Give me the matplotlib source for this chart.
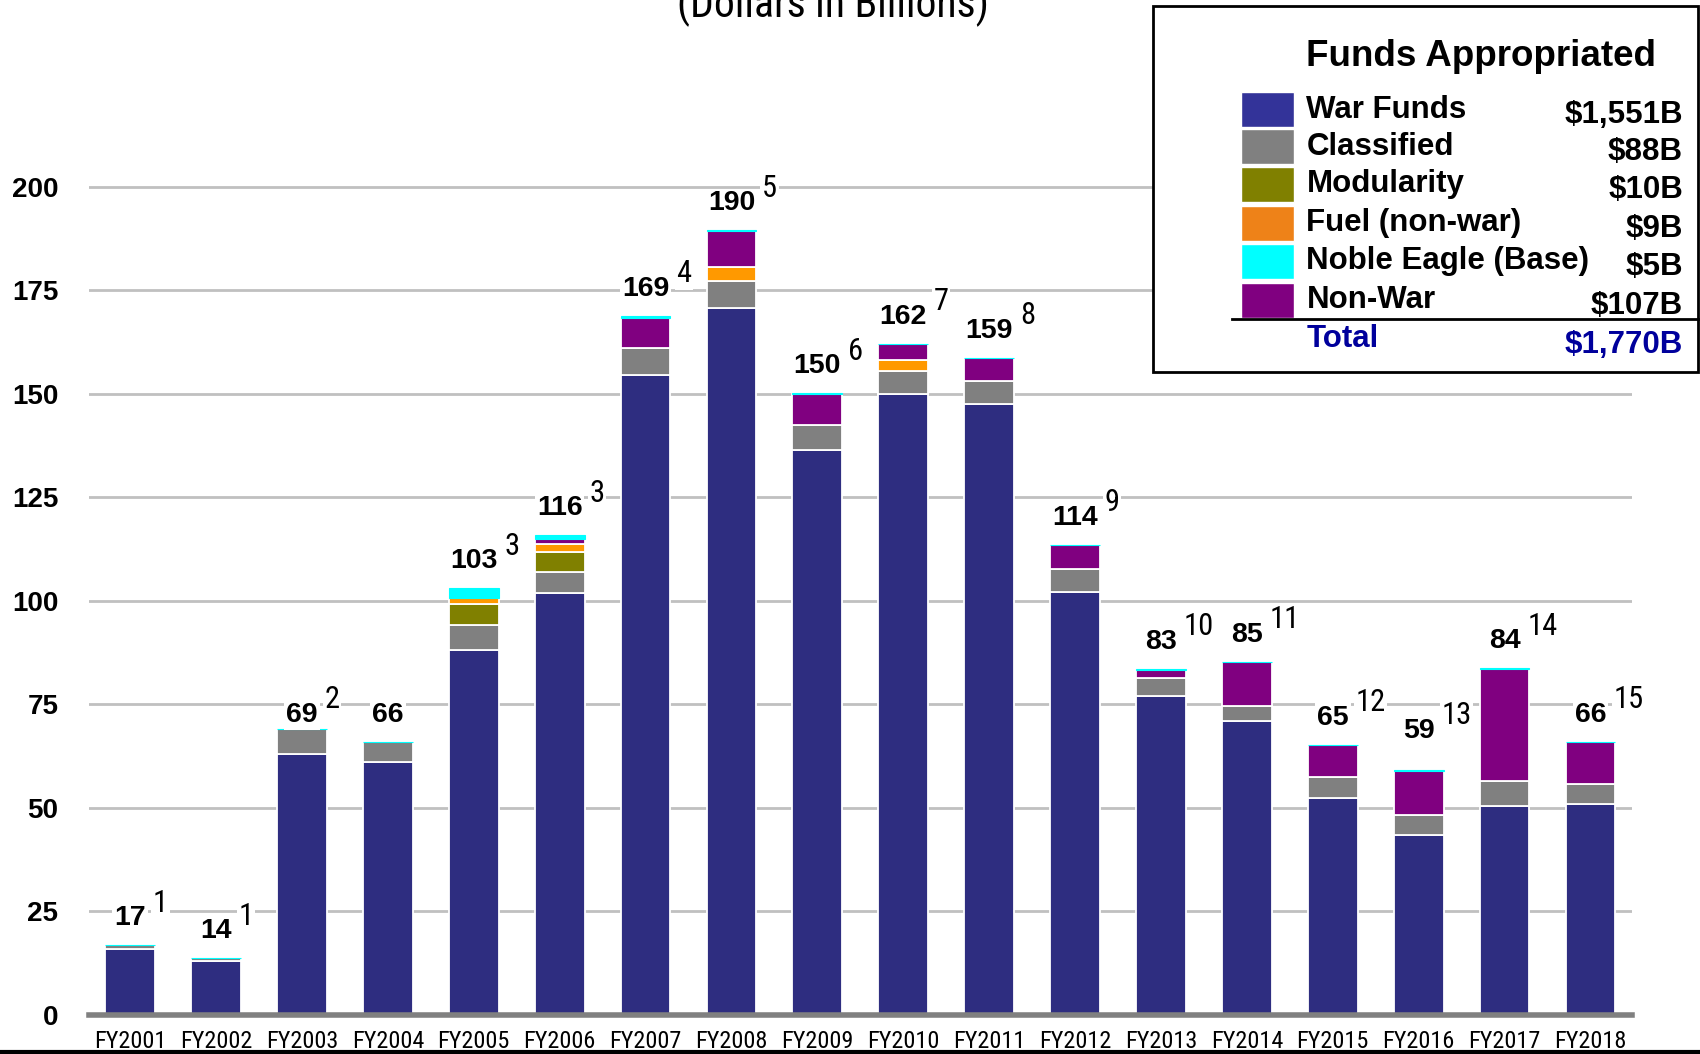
import matplotlib.pyplot as plt
from matplotlib import font_manager
from matplotlib.patches import Rectangle
from matplotlib.lines import Line2D
import numpy as np

# values (dollars in billions)
years = ['FY2001', 'FY2002', 'FY2003', 'FY2004', 'FY2005', 'FY2006', 'FY2007', 'FY2008', 'FY2009',
         'FY2010', 'FY2011', 'FY2012', 'FY2013', 'FY2014', 'FY2015', 'FY2016', 'FY2017', 'FY2018']
war_funds = [16.0, 13.0, 63.0, 61.0, 88.1, 101.8, 154.6, 170.6, 136.4,
             150.0, 147.6, 102.1, 77.0, 70.9, 52.5, 43.5, 50.4, 51.0]
classified = [0.8, 0.7, 6.0, 5.0, 6.0, 5.1, 6.3, 6.6, 6.0,
              5.5, 5.5, 5.5, 4.3, 3.8, 5.0, 4.7, 6.1, 4.8]
modularity = [0, 0, 0, 0, 5.0, 4.9, 0, 0, 0, 0, 0, 0, 0, 0, 0, 0, 0, 0]
fuel = [0, 0, 0, 0, 1.6, 2.0, 0, 3.3, 0, 2.6, 0, 0, 0, 0, 0, 0, 0, 0]
non_war = [0, 0, 0, 0, 0, 1.0, 7.3, 8.7, 7.6, 3.8, 5.5, 5.8, 2.1, 10.4, 7.6, 10.8, 27.1, 10.0]
noble_eagle = [0, 0, 0, 0, 2.3, 1.0, 0.5, 0.2, 0.1, 0.2, 0.1, 0.1, 0.1, 0.1, 0.1, 0.1, 0.1, 0.1]
totals = [17, 14, 69, 66, 103, 116, 169, 190, 150, 162, 159, 114, 83, 85, 65, 59, 84, 66]
footnotes = ['1', '1', '2', '', '3', '3', '4', '5', '6', '7', '8', '9', '10', '11', '12', '13', '14', '15']

legend_names = ['War Funds', 'Classified', 'Modularity', 'Fuel (non-war)', 'Noble Eagle (Base)', 'Non-War']
legend_amounts = ['$1,551B', '$88B', '$10B', '$9B', '$5B', '$107B']
total_amount = '$1,770B'

series = [war_funds, classified, modularity, fuel, non_war, noble_eagle]
bar_colors = ['#2E2D80', '#808080', '#808000', '#FF9900', '#800080', '#00FFFF']
legend_colors = ['#333399', '#808080', '#808000', '#EE8218', '#00FFFF', '#800080']

# pick a condensed face if one is around, else fall back to Liberation Sans
installed = {f.name for f in font_manager.fontManager.ttflist}
NARROW = 'Liberation Sans'
for cand in ['Liberation Sans Narrow', 'DejaVu Sans Condensed', 'Roboto Condensed', 'Open Sans Condensed']:
    if cand in installed:
        NARROW = cand
        break
narrow_found = NARROW != 'Liberation Sans'
BOLD = 'Liberation Sans'

fig = plt.figure(figsize=(17, 10.54), dpi=100)
ax = fig.add_axes([0.0523, 0.037, 0.9075, 0.845])

x = np.arange(len(years))
bottom = np.zeros(len(years))
for vals, col in zip(series, bar_colors):
    vals = np.array(vals, dtype=float)
    if col == '#00FFFF':
        ax.bar(x, vals, 0.58, bottom=bottom, color=col, edgecolor=col, lw=0.8, zorder=3)
    else:
        ax.bar(x, vals, 0.58, bottom=bottom, color=col, edgecolor='white', lw=1.3, zorder=3)
    bottom += vals

# value labels with footnote numbers
nudge = {'FY2003': -3.0, 'FY2016': 3.0}
fn_size = 22 if narrow_found else 17
for i, yr in enumerate(years):
    ypos = bottom[i] + 6.5 + nudge.get(yr, 0)
    lab = ax.text(x[i], ypos, str(totals[i]), ha='center', va='center', fontsize=20.5,
                  fontweight='bold', family=BOLD, zorder=5,
                  bbox=dict(fc='white', ec='none', pad=1.5))
    if footnotes[i]:
        ax.annotate(footnotes[i], xy=(1, 0.5), xycoords=lab, xytext=(5, 11),
                    textcoords='offset points', ha='left', va='center', fontsize=fn_size,
                    family=NARROW, zorder=5, bbox=dict(fc='white', ec='none', pad=1))

ax.set_xlim(-0.48, 17.48)
ax.set_ylim(0, 215)
ax.set_yticks(range(0, 201, 25))
ax.set_xticks(x)
ax.set_xticklabels(years, fontsize=17.5 if narrow_found else 13.5, family=NARROW)
for t in ax.get_yticklabels():
    t.set_fontsize(20)
    t.set_fontweight('bold')
    t.set_family(BOLD)
ax.tick_params(axis='y', length=0, pad=22)
ax.tick_params(axis='x', length=0, pad=11)
ax.grid(axis='y', color='#C0C0C0', lw=2)
ax.set_axisbelow(True)
for s in ['top', 'right', 'left']:
    ax.spines[s].set_visible(False)
ax.spines['bottom'].set_color('#808080')
ax.spines['bottom'].set_linewidth(4)
ax.spines['bottom'].set_zorder(4)

# subtitle, cut off at the top edge like the source
fig.text(0.49, 0.995, '(Dollars in Billions)', ha='center', va='center', fontsize=30, family=NARROW)

# legend box
fig.add_artist(Rectangle((0.678, 0.647), 0.321, 0.347, transform=fig.transFigure,
                         fc='white', ec='black', lw=2, zorder=5))
fig.text(0.871, 0.946, 'Funds Appropriated', ha='center', va='center', fontsize=26.5,
         fontweight='bold', family=BOLD, zorder=6)
row_y = [0.896, 0.861, 0.825, 0.788, 0.752, 0.715]
for yy, name, amt, col in zip(row_y, legend_names, legend_amounts, legend_colors):
    fig.add_artist(Rectangle((0.730, yy - 0.0165), 0.031, 0.033, transform=fig.transFigure,
                             fc=col, ec='white', lw=1, zorder=6))
    fig.text(0.7685, yy, name, ha='left', va='center', fontsize=22.5, fontweight='bold',
             family=BOLD, zorder=6)
    fig.text(0.990, yy - 0.005, amt, ha='right', va='center', fontsize=22.5, fontweight='bold',
             family=BOLD, zorder=6)
fig.add_artist(Line2D([0.7245, 0.999], [0.6975, 0.6975], transform=fig.transFigure,
                      color='black', lw=2, zorder=7))
fig.text(0.7685, 0.678, 'Total', ha='left', va='center', fontsize=22.5, fontweight='bold',
         family=BOLD, color='#00009C', zorder=6)
fig.text(0.990, 0.673, total_amount, ha='right', va='center', fontsize=22.5, fontweight='bold',
         family=BOLD, color='#00009C', zorder=6)

# black rule along the bottom edge
fig.add_artist(Line2D([0, 1], [0.002, 0.002], transform=fig.transFigure, color='black', lw=3))

fig.savefig('out.png', dpi=100)
